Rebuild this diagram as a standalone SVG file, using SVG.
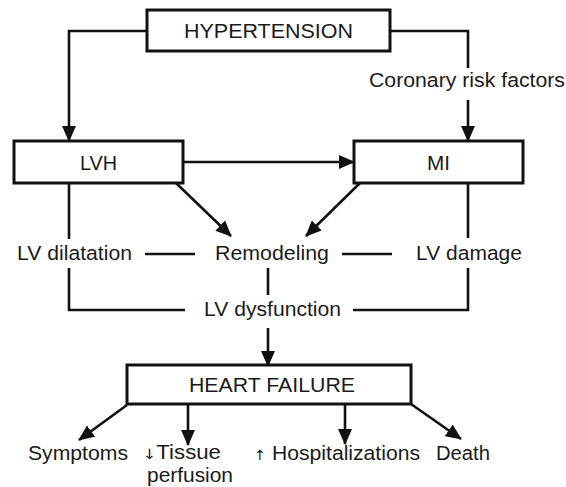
<svg xmlns="http://www.w3.org/2000/svg" width="566" height="487" viewBox="0 0 566 487">
<style>
.box{fill:#fff;stroke:#111;stroke-width:3}
.t{font-family:"Liberation Sans",Arial,sans-serif;font-size:20.5px;fill:#1a1a1a}
.t2{font-family:"Liberation Sans",Arial,sans-serif;font-size:19.5px;fill:#1a1a1a}
.ar{font-family:"DejaVu Sans",sans-serif;font-size:14px}
.c{fill:none;stroke:#111;stroke-width:2.6}
.a{fill:none;stroke:#111;stroke-width:2.6;marker-end:url(#ah)}
</style>
<defs>
<marker id="ah" markerUnits="userSpaceOnUse" markerWidth="16" markerHeight="14" refX="15" refY="7" orient="auto">
<path d="M0,0 L16,7 L0,14 z" fill="#111"/>
</marker>
</defs>
<rect width="566" height="487" fill="#fff"/>
<g id="connectors">
<path class="a" d="M147,31 H69 V141"/>
<path class="c" d="M390,31 H468 V68"/>
<path class="a" d="M468,100 V141"/>
<path class="a" d="M183,162 H354"/>
<path class="a" d="M176,183 L231,236"/>
<path class="a" d="M360,183 L306,236"/>
<path class="c" d="M69,183 V239"/>
<path class="c" d="M468,183 V238"/>
<path class="c" d="M145,254 H195"/>
<path class="c" d="M342,254 H392"/>
<path class="c" d="M69,268 V310 H185"/>
<path class="c" d="M468,268 V310 H353"/>
<path class="c" d="M268,268 V295"/>
<path class="a" d="M268,328 V366"/>
<path class="a" d="M127,405 L79,440"/>
<path class="a" d="M188,404 V445"/>
<path class="a" d="M345,404 V444"/>
<path class="a" d="M411,404 L461,439"/>
</g>
<g id="hypertension">
<rect class="box" x="147" y="10" width="243" height="41"/>
<text class="t" x="184" y="38" textLength="169" lengthAdjust="spacingAndGlyphs">HYPERTENSION</text>
</g>
<g id="coronary">
<text class="t" x="369" y="87" textLength="196" lengthAdjust="spacingAndGlyphs">Coronary risk factors</text>
</g>
<g id="lvh">
<rect class="box" x="14" y="141" width="169" height="42"/>
<text class="t" x="80" y="170" textLength="37" lengthAdjust="spacingAndGlyphs">LVH</text>
</g>
<g id="mi">
<rect class="box" x="354" y="141" width="169" height="42"/>
<text class="t" x="427" y="170" textLength="23" lengthAdjust="spacingAndGlyphs">MI</text>
</g>
<g id="lv-dilatation">
<text class="t" x="17" y="260" textLength="115" lengthAdjust="spacingAndGlyphs">LV dilatation</text>
</g>
<g id="remodeling">
<text class="t" x="215" y="260" textLength="114" lengthAdjust="spacingAndGlyphs">Remodeling</text>
</g>
<g id="lv-damage">
<text class="t" x="416" y="260" textLength="106" lengthAdjust="spacingAndGlyphs">LV damage</text>
</g>
<g id="lv-dysfunction">
<text class="t" x="204" y="316" textLength="137" lengthAdjust="spacingAndGlyphs">LV dysfunction</text>
</g>
<g id="heart-failure">
<rect class="box" x="127" y="365" width="284" height="39"/>
<text class="t" x="189" y="392" textLength="166" lengthAdjust="spacingAndGlyphs">HEART FAILURE</text>
</g>
<g id="symptoms">
<text class="t" x="28" y="460" textLength="100" lengthAdjust="spacingAndGlyphs">Symptoms</text>
</g>
<g id="tissue">
<text class="t2" x="143" y="459" textLength="78" lengthAdjust="spacingAndGlyphs"><tspan class="ar">↓</tspan>Tissue</text>
<text class="t2" x="147" y="482" textLength="86" lengthAdjust="spacingAndGlyphs">perfusion</text>
</g>
<g id="hospitalizations">
<text class="t" x="254" y="460" textLength="166" lengthAdjust="spacingAndGlyphs"><tspan class="ar">↑</tspan> Hospitalizations</text>
</g>
<g id="death">
<text class="t" x="436" y="460" textLength="54" lengthAdjust="spacingAndGlyphs">Death</text>
</g>
</svg>
